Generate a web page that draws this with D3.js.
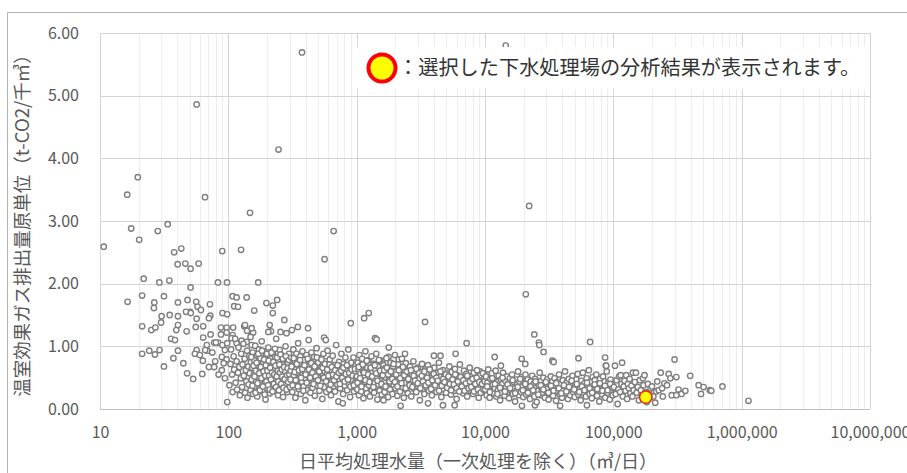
<!DOCTYPE html>
<html>
<head>
<meta charset="utf-8">
<script src="https://cdn.jsdelivr.net/npm/d3@7"></script>
<style>
  body { margin: 0; background: #fff; }
  svg text { font-family: "Noto Sans CJK JP", "Noto Sans", sans-serif; }
</style>
</head>
<body>
<div id="chart"></div>
<script>
// tick values
const xTicks = [10, 100, 1000, 10000, 100000, 1000000, 10000000];
const yTicks = [0, 1, 2, 3, 4, 5, 6];

// [daily flow m3/day, CO2 unit t-CO2/千m3]
const plants10to100 = [[10.7,2.59],[16.3,3.42],[19.7,3.70],[17.5,2.88],[20.2,2.70],[28.2,2.84],[33.7,2.95],[65.8,3.38],[37.8,2.50],[43,2.56],[40.3,2.31],[46.2,2.32],[50.8,2.24],[58.7,2.32],[89.7,2.52],[21.9,2.08],[29,2.02],[34.7,2.05],[50.8,1.94],[83,2.02],[97.7,2.02],[16.4,1.71],[21.3,1.81],[26.5,1.70],[26.3,1.61],[31.5,1.80],[30.2,1.48],[29.9,1.38],[25.1,1.26],[27,1.30],[21.3,1.32],[21.3,0.88],[24.2,0.93],[26.8,0.87],[29.1,0.94],[31.5,0.68],[34.9,1.50],[40.5,1.70],[40.5,1.48],[39.3,1.26],[40.5,1.34],[35.8,1.12],[38.4,1.10],[40.5,0.93],[37.3,0.81],[44.6,0.73],[47.7,0.57],[53.2,0.48],[48.1,1.74],[50.4,1.55],[46.8,1.55],[51,1.53],[47.3,1.24],[56.2,1.71],[57.6,1.63],[61.2,1.58],[56.6,1.44],[55.7,1.31],[63.7,1.32],[71.9,1.67],[72.4,1.49],[70.6,1.45],[63.7,1.14],[72.7,1.19],[68.6,0.93],[56.6,0.94],[54.9,0.88],[63.3,0.77],[62.6,0.56],[70.6,0.67],[77.6,0.67],[77.6,1.06],[83.5,1.06],[90,1.53],[97.9,1.51],[87.6,1.30],[97,1.30],[56.6,4.86],[87.6,1.19],[97,1.22],[80,1.06],[90,1.02],[98,1.05],[94,0.94],[89,0.83],[97,0.79],[92,0.73],[89,0.62],[94,0.49],[98,0.11],[68,1.02],[66,0.94],[60,0.86],[75,0.90],[84,0.55],[79,0.76]];

const plants100to1k = [[246,4.14],[375,5.69],[147.5,3.13],[661,2.84],[562,2.39],[171,2.02],[125.6,2.54],[108,1.80],[116,1.78],[111,1.64],[119,1.63],[139,1.78],[159,1.57],[198,1.69],[222,1.65],[240,1.74],[222,1.53],[273,1.42],[109,1.30],[133,1.32],[150,1.24],[210,1.34],[215,1.24],[255,1.23],[348,1.31],[418,1.29],[284,1.21],[313,1.26],[558,1.14],[575,1.10],[900,1.37],[205,1.23],[156,1.22],[140,1.25],[135,1.34],[152,1.29],[108,1.18],[106,1.13],[116,1.05],[127,1.09],[139,1.07],[152,1.02],
  [102,0.38],[104,0.72],[105,0.95],[107,0.55],[108,0.27],[110,0.84],[111,0.63],[113,1.12],[114,0.42],[116,0.76],[117,0.31],[119,0.58],[120,0.98],[122,0.67],[123,0.22],[125,0.49],[126,0.88],[128,0.35],[129,0.71],[131,1.04],[132,0.53],[134,0.80],[135,0.26],[137,0.62],[138,0.44],[140,0.93],[141,0.18],[143,0.68],[144,0.39],[146,0.85],[147,0.57],[149,1.15],[149,0.30],[150,0.75],
  [152,0.47],[153,0.66],[155,0.90],[156,0.24],[158,0.55],[159,0.78],[161,0.36],[162,1.01],[164,0.61],[165,0.43],[167,0.86],[168,0.20],[170,0.70],[172,0.51],[173,0.95],[175,0.33],[177,0.64],[178,0.81],[180,0.45],[182,1.08],[184,0.58],[185,0.28],[187,0.74],[189,0.92],[191,0.40],[193,0.62],[195,0.15],[197,0.85],[199,0.52],[201,0.33],[203,0.70],[205,0.98],[207,0.46],[209,0.60],[211,0.25],[213,0.80],[216,0.55],[218,0.38],[220,0.72],[222,0.90],[225,0.48],[227,0.64],[229,0.30],[232,0.83],[234,0.57],[236,1.12],[239,0.42],[241,0.68],[244,0.22],[246,0.77],[249,0.50],[251,0.94],[254,0.35],[256,0.62],[259,0.86],[262,0.45],[264,0.71],[267,0.19],[270,0.56],[273,0.80],[276,0.39],[279,1.00],[282,0.65],[285,0.48],[288,0.27],[291,0.74],[294,0.58],[297,0.88],[300,0.42],[300,0.66],
  [151,0.83],[154,0.37],[157,0.69],[160,0.52],[163,0.26],[166,0.74],[169,0.41],[171,0.88],[174,0.57],[176,0.30],[179,0.67],[181,0.49],[183,0.93],[186,0.36],[188,0.60],[190,0.79],[192,0.23],[194,0.53],[196,0.70],[198,0.44],[200,0.88],[202,0.61],[204,0.38],[206,0.77],[208,0.53],[210,0.31],[212,0.66],[215,0.47],[217,0.90],[219,0.58],[221,0.28],[224,0.75],[226,0.40],[228,0.55],[231,0.96],[233,0.69],[235,0.35],[238,0.52],[240,0.82],[243,0.61],[245,0.44],[248,0.30],[250,0.71],[253,0.58],[255,0.87],[258,0.40],[261,0.63],[263,0.52],[266,0.80],[269,0.34],[272,0.67],[275,0.48],[278,0.59],[281,0.84],[284,0.31],[287,0.54],[290,0.65],[293,0.43],[296,0.78],[299,0.55],
  [303,0.35],[306,0.61],[309,0.82],[312,0.49],[315,0.27],[318,0.70],[321,0.95],[324,0.54],[327,0.40],[330,0.76],[333,0.18],[336,0.63],[340,0.88],[343,0.45],[346,0.58],[350,1.05],[353,0.32],[357,0.72],[360,0.51],[364,0.84],[367,0.24],[371,0.66],[375,0.43],[378,0.92],[382,0.57],[386,0.36],[390,0.78],[394,0.60],[398,0.14],[402,0.48],[406,0.86],[410,0.30],[414,0.69],[418,0.53],[423,1.10],[427,0.41],[431,0.75],[436,0.26],[440,0.62],[444,0.90],[449,0.46],[453,0.34],[458,0.71],[463,0.55],[467,0.83],[472,0.21],[477,0.64],[482,0.44],[487,0.97],[492,0.58],[497,0.37],[502,0.74],[507,0.50],[513,0.29],[518,0.81],[523,0.62],[529,0.42],[534,0.68],[540,0.16],[545,0.53],[551,0.88],[557,0.35],[563,0.60],[569,0.47],[575,0.76],[581,0.27],[587,0.56],[593,0.93],[599,0.40],[605,0.65],[612,0.31],[618,0.79],[624,0.50],[631,0.22],[637,0.61],[644,0.44],[650,0.85],[657,0.36],[664,0.57],[671,0.70],[678,0.28],[685,0.49],[692,1.02],[699,0.63],[706,0.39],[714,0.54],[721,0.12],[729,0.75],[736,0.46],[744,0.33],[752,0.67],[760,0.88],[768,0.41],[776,0.58],[784,0.24],[792,0.72],[800,0.50],[809,0.37],[817,0.82],[826,0.45],[834,0.62],[843,0.30],[852,0.55],[861,0.95],[870,0.40],[879,0.68],[888,0.19],[897,0.52],[906,0.74],[916,0.35],[925,0.60],[935,0.46],[944,0.82],[954,0.28],[964,0.57],[974,0.42],[984,0.70],[994,0.33],[780,0.09],
  [305,0.47],[311,0.68],[317,0.38],[323,0.81],[329,0.59],[335,0.46],[342,0.72],[348,0.36],[355,0.62],[362,0.78],[369,0.50],[377,0.64],[384,0.29],[392,0.70],[400,0.55],[408,0.42],[416,0.80],[425,0.63],[434,0.50],[443,0.73],[452,0.58],[461,0.40],[470,0.68],[480,0.52],[490,0.82],[500,0.46],[511,0.60],[521,0.37],[532,0.79],[543,0.66],[555,0.50],[566,0.72],[578,0.44],[590,0.63],[602,0.53],[615,0.71],[627,0.39],[640,0.67],[654,0.55],[667,0.46],[681,0.62],[696,0.52],[710,0.70],[725,0.58],[740,0.40],[756,0.61],[772,0.50],[788,0.66],[805,0.44],[822,0.56],[839,0.70],[857,0.47],[875,0.58],[893,0.36],[912,0.63],[931,0.53],[950,0.38],[970,0.64],[990,0.50]];

const plants1kto10k = [[1143,1.45],[1242,1.53],[1390,1.13],[1430,1.11],[1780,0.98],[3410,1.39],[7190,1.05],[2380,0.88],[2130,0.79],[1570,0.77],[1770,0.83],[4000,0.85],[4500,0.85],[5900,0.88],[1620,0.14],[2200,0.05],[3600,0.09],[4700,0.06],[5800,0.06],[9150,0.60],[9800,0.57],
  [1005,0.52],[1012,0.31],[1020,0.74],[1028,0.45],[1035,0.63],[1043,0.22],[1051,0.86],[1060,0.40],[1068,0.57],[1077,0.69],[1085,0.28],[1094,0.48],[1103,0.80],[1112,0.36],[1121,0.60],[1130,0.17],[1140,0.53],[1150,0.71],[1160,0.43],[1170,0.92],[1180,0.33],[1190,0.58],[1201,0.25],[1212,0.66],[1223,0.47],[1234,0.78],[1245,0.38],[1257,0.55],[1268,0.20],[1280,0.64],[1292,0.44],[1304,0.84],[1316,0.30],[1329,0.59],[1341,0.49],[1354,0.72],[1367,0.26],[1380,0.41],[1394,0.62],[1407,0.35],[1421,0.88],[1435,0.51],[1449,0.15],[1463,0.68],[1478,0.39],[1493,0.56],[1508,0.29],[1523,0.76],[1538,0.46],[1554,0.61],[1570,0.23],[1586,0.53],[1602,0.37],[1619,0.70],[1636,0.43],[1653,0.27],[1670,0.65],[1688,0.50],[1706,0.81],[1724,0.34],[1742,0.57],[1761,0.19],[1780,0.46],[1799,0.63],[1819,0.31],[1839,0.74],[1859,0.41],[1879,0.55],[1900,0.24],[1921,0.68],[1942,0.38],[1964,0.52],[1986,0.86],
  [2008,0.33],[2031,0.60],[2054,0.45],[2077,0.21],[2101,0.71],[2125,0.40],[2150,0.56],[2175,0.28],[2200,0.64],[2226,0.47],[2252,0.80],[2279,0.35],[2306,0.53],[2333,0.18],[2361,0.62],[2389,0.42],[2418,0.73],[2447,0.30],[2477,0.51],[2507,0.25],[2538,0.58],[2569,0.44],[2601,0.68],[2633,0.37],[2666,0.20],[2699,0.55],[2733,0.46],[2768,0.76],[2803,0.32],[2839,0.61],[2875,0.41],[2912,0.27],[2950,0.52],[2988,0.66],[3027,0.36],[3067,0.48],[3107,0.14],[3148,0.59],[3190,0.40],[3232,0.72],[3275,0.31],[3319,0.50],[3364,0.24],[3409,0.63],[3455,0.43],[3502,0.35],[3550,0.57],[3599,0.70],[3648,0.29],[3698,0.47],[3749,0.38],[3801,0.60],[3854,0.22],[3908,0.52],[3963,0.42],[4019,0.66],[4076,0.33],[4134,0.49],[4193,0.27],[4253,0.58],[4314,0.40],[4376,0.74],[4439,0.35],[4503,0.51],[4568,0.19],[4634,0.45],[4701,0.62],[4769,0.31],[4838,0.54],[4908,0.40],[4979,0.26],
  [5051,0.57],[5124,0.44],[5199,0.33],[5275,0.68],[5352,0.48],[5430,0.23],[5509,0.59],[5589,0.38],[5671,0.51],[5754,0.29],[5838,0.64],[5924,0.42],[6011,0.16],[6099,0.54],[6189,0.36],[6280,0.47],[6372,0.71],[6466,0.30],[6561,0.50],[6658,0.40],[6756,0.25],[6856,0.61],[6957,0.44],[7060,0.34],[7164,0.56],[7270,0.20],[7378,0.48],[7487,0.38],[7598,0.66],[7711,0.29],[7825,0.52],[7941,0.43],[8059,0.24],[8178,0.58],[8300,0.36],[8423,0.47],[8548,0.31],[8675,0.62],[8804,0.40],[8935,0.18],[9068,0.53],[9203,0.35],[9340,0.45],[9479,0.27],[9620,0.57],[9763,0.38],[9908,0.49],
  [1016,0.42],[1040,0.67],[1064,0.49],[1090,0.36],[1116,0.71],[1143,0.58],[1171,0.46],[1199,0.77],[1228,0.55],[1258,0.43],[1288,0.66],[1320,0.52],[1352,0.35],[1385,0.70],[1418,0.57],[1453,0.45],[1488,0.78],[1524,0.61],[1561,0.40],[1599,0.54],[1638,0.62],[1678,0.36],[1719,0.66],[1760,0.55],[1803,0.44],[1847,0.60],[1892,0.48],[1938,0.72],[1985,0.43],[2033,0.55],[2083,0.36],[2133,0.62],[2185,0.49],[2238,0.41],[2293,0.67],[2348,0.54],[2406,0.33],[2464,0.60],[2524,0.48],[2586,0.38],[2649,0.62],[2713,0.35],[2779,0.53],[2847,0.45],[2916,0.64],[2987,0.41],[3060,0.57],[3134,0.33],[3210,0.53],[3289,0.44],[3369,0.60],[3451,0.38],[3535,0.50],[3621,0.42],[3709,0.63],[3799,0.32],[3892,0.46],[3987,0.56],[4084,0.38],[4183,0.50],[4285,0.45],[4389,0.29],[4496,0.60],[4606,0.37],[4718,0.48],[4833,0.43],[4950,0.55],[5071,0.34],[5194,0.52],[5321,0.40],[5450,0.30],[5583,0.47],[5719,0.39],[5858,0.55],[6001,0.33],[6147,0.44],[6296,0.28],[6450,0.51],[6607,0.36],[6768,0.46],[6933,0.29],[7101,0.41],[7274,0.53],[7451,0.33],[7633,0.44],[7818,0.35],[8009,0.48],[8204,0.28],[8403,0.40],[8608,0.50],[8818,0.31],[9032,0.43],[9252,0.26],[9477,0.40],[9708,0.31],[9944,0.44]];

const plants10kto100k = [[14500,5.80],[22080,3.24],[20800,1.83],[24200,1.19],[26300,1.06],[26500,1.02],[28600,0.91],[65900,1.07],[11900,0.83],[19300,0.80],[20600,0.72],[33500,0.77],[34300,0.75],[53500,0.81],[86300,0.82],[87400,0.69],[13300,0.69],[19400,0.05],[24500,0.06],[38500,0.05],[62300,0.06],[88000,0.69],
  [10050,0.31],[10180,0.52],[10310,0.22],[10450,0.42],[10590,0.63],[10730,0.35],[10870,0.18],[11020,0.48],[11170,0.28],[11320,0.57],[11470,0.39],[11620,0.25],[11780,0.46],[11940,0.33],[12100,0.61],[12260,0.20],[12430,0.43],[12600,0.30],[12770,0.53],[12940,0.37],[13110,0.14],[13290,0.47],[13470,0.26],[13650,0.40],[13830,0.58],[14020,0.32],[14210,0.21],[14400,0.45],[14600,0.35],[14800,0.52],[15000,0.27],[15200,0.41],[15400,0.17],[15610,0.49],[15820,0.30],[16030,0.38],[16250,0.55],[16470,0.24],[16690,0.43],[16920,0.33],[17150,0.12],[17380,0.47],[17610,0.29],[17850,0.39],[18090,0.60],[18330,0.22],[18580,0.44],[18830,0.34],[19080,0.27],[19340,0.51],[19600,0.37],[19860,0.19],
  [20130,0.42],[20400,0.30],[20680,0.55],[20960,0.23],[21240,0.38],[21530,0.47],[21820,0.28],[22110,0.35],[22410,0.16],[22710,0.44],[23010,0.32],[23320,0.53],[23640,0.25],[23960,0.40],[24280,0.20],[24610,0.48],[24940,0.34],[25270,0.11],[25610,0.42],[25960,0.29],[26310,0.37],[26660,0.58],[27020,0.22],[27380,0.45],[27750,0.31],[28130,0.26],[28510,0.50],[28890,0.36],[29280,0.18],[29670,0.41],[30070,0.28],[30480,0.47],[30890,0.33],[31300,0.15],[31720,0.39],[32150,0.24],[32590,0.52],[33030,0.35],[33470,0.44],[33920,0.21],[34380,0.30],[34840,0.49],[35310,0.38],[35790,0.13],[36270,0.43],[36760,0.27],[37250,0.34],[37750,0.55],[38260,0.23],[38780,0.40],[39300,0.31],[39830,0.18],[40360,0.46],[40910,0.29],[41460,0.37],[42020,0.60],[42580,0.25],[43160,0.42],[43740,0.32],[44330,0.16],[44920,0.48],[45530,0.35],[46140,0.22],[46760,0.40],[47390,0.30],[48030,0.53],[48680,0.27],[49330,0.44],
  [50000,0.19],[50680,0.36],[51360,0.47],[52050,0.28],[52750,0.56],[53460,0.23],[54180,0.39],[54910,0.32],[55650,0.14],[56400,0.45],[57160,0.30],[57930,0.58],[58710,0.25],[59500,0.41],[60300,0.35],[61110,0.20],[61940,0.49],[62770,0.29],[63610,0.38],[64470,0.62],[65340,0.24],[66220,0.43],[67110,0.33],[68010,0.17],[68930,0.51],[69860,0.37],[70800,0.27],[71750,0.46],[72720,0.31],[73700,0.55],[74690,0.21],[75700,0.40],[76720,0.34],[77750,0.12],[78800,0.48],[79860,0.28],[80930,0.38],[82020,0.23],[83130,0.52],[84250,0.33],[85380,0.44],[86530,0.18],[87700,0.36],[88880,0.60],[90080,0.26],[91290,0.42],[92520,0.31],[93770,0.15],[95030,0.47],[96310,0.29],[97610,0.39],[98920,0.22],
  [10400,0.36],[10900,0.27],[11400,0.49],[11950,0.40],[12500,0.24],[13100,0.34],[13700,0.50],[14300,0.28],[15000,0.39],[15700,0.33],[16400,0.46],[17200,0.25],[18000,0.35],[18800,0.48],[19700,0.30],[20600,0.40],[21600,0.26],[22600,0.36],[23700,0.30],[24800,0.44],[26000,0.23],[27200,0.38],[28500,0.31],[29800,0.43],[31200,0.26],[32700,0.37],[34200,0.29],[35900,0.41],[37600,0.33],[39300,0.25],[41200,0.38],[43100,0.28],[45200,0.35],[47300,0.45],[49500,0.31],[51900,0.40],[54300,0.27],[56900,0.36],[59600,0.30],[62400,0.42],[65300,0.33],[68400,0.26],[71600,0.39],[75000,0.32],[78500,0.41],[82200,0.29],[86100,0.37],[90200,0.30],[94400,0.40],[98800,0.33]];

const plants100kUp = [[101000,0.35],[103000,0.69],[104500,0.24],[106000,0.46],[108000,0.08],[109500,0.31],[111000,0.52],[113000,0.27],[114000,0.54],[115500,0.40],[117000,0.74],[118500,0.20],[120500,0.36],[122500,0.45],[124500,0.29],[126000,0.54],[128000,0.16],[130000,0.40],[132000,0.33],[134000,0.48],[136000,0.25],[138500,0.37],[141000,0.20],[142000,0.58],[144000,0.30],[147000,0.43],[150000,0.58],[152000,0.26],[155000,0.35],[158000,0.14],[161000,0.46],[164000,0.30],[167000,0.22],[170000,0.49],[172000,0.38],[175000,0.54],[178000,0.27],[182000,0.11],[186000,0.40],[190000,0.25],[195000,0.33],[200000,0.36],[205000,0.20],[212000,0.10],[216000,0.28],[220000,0.44],[226000,0.30],[234000,0.58],[240000,0.33],[243000,0.20],[250000,0.41],[262000,0.38],[270000,0.56],[278000,0.49],[285000,0.22],[300000,0.79],[310000,0.51],[310000,0.22],[322000,0.31],[340000,0.24],[364000,0.29],[397000,0.53],[462000,0.38],[482000,0.24],[505000,0.35],[565000,0.30],[580000,0.29],[708000,0.36],[1130000,0.13]];

// the selected plant
const selectedPlant = [179000, 0.19];

const legendText = "：選択した下水処理場の分析結果が表示されます。";
const xTitle = "日平均処理水量（一次処理を除く）（㎥/日）";
const yTitle = "温室効果ガス排出量原単位（t-CO2/千㎥）";

const W = 907, H = 473;
const plot = {left: 100, right: 870, top: 33, bottom: 409};

const svg = d3.select("#chart").append("svg")
    .attr("width", W)
    .attr("height", H);

// chart area frame
svg.append("rect")
    .attr("x", 7.5).attr("y", 12.5)
    .attr("width", 940).attr("height", 500)
    .attr("fill", "none")
    .attr("stroke", "#b4b4b4");

const x = d3.scaleLog()
    .domain([10, 10000000])
    .range([plot.left, plot.right]);

const y = d3.scaleLinear()
    .domain([0, 6])
    .range([plot.bottom, plot.top]);

// minor vertical grid
const minorTicks = [];
xTicks.slice(0, -1).forEach(function (d) {
    for (let k = 2; k <= 9; k++) minorTicks.push(d * k);
});
svg.append("g")
    .selectAll("line")
    .data(minorTicks)
    .join("line")
    .attr("x1", d => Math.round(x(d)) + 0.5)
    .attr("x2", d => Math.round(x(d)) + 0.5)
    .attr("y1", plot.top)
    .attr("y2", plot.bottom)
    .attr("stroke", "#ededed");

// major grids
svg.append("g")
    .selectAll("line")
    .data(xTicks)
    .join("line")
    .attr("x1", d => Math.round(x(d)) + 0.5)
    .attr("x2", d => Math.round(x(d)) + 0.5)
    .attr("y1", plot.top)
    .attr("y2", plot.bottom)
    .attr("stroke", "#d4d4d4");

svg.append("g")
    .selectAll("line")
    .data(yTicks)
    .join("line")
    .attr("x1", plot.left)
    .attr("x2", plot.right)
    .attr("y1", d => Math.round(y(d)) + 0.5)
    .attr("y2", d => Math.round(y(d)) + 0.5)
    .attr("stroke", d => d === 0 ? "#bfbfbf" : "#d4d4d4");

// axes (labels only)
const xAxis = svg.append("g")
    .attr("transform", `translate(0,${plot.bottom})`)
    .call(d3.axisBottom(x).tickValues(xTicks).tickFormat(d3.format(",")).tickSize(0).tickPadding(18));
const yAxis = svg.append("g")
    .attr("transform", `translate(${plot.left},0)`)
    .call(d3.axisLeft(y).tickValues(yTicks).tickFormat(d3.format(".2f")).tickSize(0).tickPadding(21));
[xAxis, yAxis].forEach(function (g) {
    g.select(".domain").remove();
    g.selectAll("text")
        .attr("fill", "#595959")
        .style("font-size", "16px");
});

// points
const allPlants = [].concat(plants10to100, plants100to1k, plants1kto10k, plants10kto100k, plants100kUp);
svg.append("g")
    .selectAll("circle")
    .data(allPlants)
    .join("circle")
    .attr("cx", d => x(d[0]))
    .attr("cy", d => y(d[1]))
    .attr("r", 2.7)
    .attr("fill", "#fff")
    .attr("stroke", "#7f7f7f")
    .attr("stroke-width", 1.4);

svg.append("circle")
    .attr("cx", x(selectedPlant[0]))
    .attr("cy", y(selectedPlant[1]))
    .attr("r", 6.2)
    .attr("fill", "#ffff00")
    .attr("stroke", "#e0301e")
    .attr("stroke-width", 1.6);

// legend note
const legend = svg.append("g");
legend.append("rect")
    .attr("x", 357).attr("y", 47)
    .attr("width", 509).attr("height", 42)
    .attr("fill", "#fff");
legend.append("circle")
    .attr("cx", 382).attr("cy", 68)
    .attr("r", 13.5)
    .attr("fill", "#ffff00")
    .attr("stroke", "#ff0000")
    .attr("stroke-width", 4);
legend.append("text")
    .attr("x", 398).attr("y", 75)
    .attr("fill", "#333")
    .style("font-size", "20.2px")
    .text(legendText);

// axis titles
svg.append("text")
    .attr("x", 478).attr("y", 468)
    .attr("text-anchor", "middle")
    .attr("fill", "#595959")
    .style("font-size", "18px")
    .text(xTitle);

svg.append("text")
    .attr("transform", "translate(29,221) rotate(-90)")
    .attr("text-anchor", "middle")
    .attr("fill", "#595959")
    .style("font-size", "18.5px")
    .text(yTitle);
</script>
</body>
</html>
